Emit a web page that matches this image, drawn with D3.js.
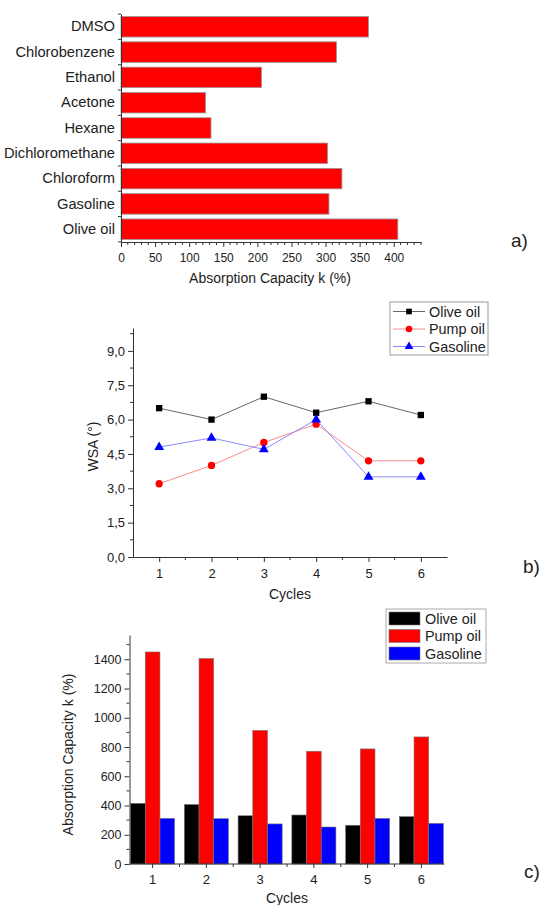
<!DOCTYPE html>
<html>
<head>
<meta charset="utf-8">
<script src="https://cdn.jsdelivr.net/npm/d3@7"></script>
<style>
  body { margin: 0; background: #fff; }
  svg { font-family: "Liberation Sans", Arial, sans-serif; }
  .axis path, .axis line { stroke: #333; }
  .axis text { fill: #222; }
</style>
</head>
<body>
<div id="chart"></div>
<script>
// panel a data
const solvents = ['DMSO', 'Chlorobenzene', 'Ethanol', 'Acetone', 'Hexane', 'Dichloromethane', 'Chloroform', 'Gasoline', 'Olive oil'];
const solventCapacity = [363, 316, 206, 124, 132, 303, 324, 305, 406];

// panel b / c data
const cycles = [1, 2, 3, 4, 5, 6];
const seriesNames = ['Olive oil', 'Pump oil', 'Gasoline'];
const wsaOlive = [6.5, 6.0, 7.0, 6.3, 6.8, 6.2];
const wsaPump = [3.2, 4.0, 5.0, 5.8, 4.2, 4.2];
const wsaGasoline = [4.8, 5.2, 4.7, 6.0, 3.5, 3.5];
const capOlive = [415, 407, 330, 335, 265, 324];
const capPump = [1450, 1405, 914, 771, 787, 869];
const capGasoline = [312, 310, 274, 253, 312, 278];

const svg = d3.select('#chart').append('svg')
    .attr('width', 545)
    .attr('height', 905);

function minorTicks(g, scale, values, len, orient) {
    values.forEach(v => {
        const p = scale(v);
        if (orient === 'bottom') {
            g.append('line').attr('x1', p).attr('x2', p).attr('y1', 0).attr('y2', len).attr('stroke', '#333');
        } else {
            g.append('line').attr('y1', p).attr('y2', p).attr('x1', 0).attr('x2', -len).attr('stroke', '#333');
        }
    });
}

function panelLabel(txt, x, y) {
    svg.append('text').attr('x', x).attr('y', y)
        .attr('font-size', 19).attr('fill', '#222')
        .text(txt);
}

function axisTitle(txt, x, y, rotate) {
    svg.append('text')
        .attr('transform', `translate(${x},${y})` + (rotate ? ' rotate(-90)' : ''))
        .attr('text-anchor', 'middle').attr('font-size', 14).attr('fill', '#222')
        .text(txt);
}

// ---------- panel a ----------
(function () {
    const left = 121, right = 421, top = 14, bottom = 242;
    const x = d3.scaleLinear().domain([0, 440]).range([left, right]);
    const y = d3.scaleBand().domain(solvents).range([top, bottom]).paddingInner(0.19).paddingOuter(0.1);

    svg.append('g').selectAll('rect')
        .data(solvents)
        .enter().append('rect')
        .attr('x', x(0))
        .attr('y', d => y(d))
        .attr('width', (d, i) => x(solventCapacity[i]) - x(0))
        .attr('height', y.bandwidth())
        .attr('fill', '#ff0000')
        .attr('stroke', '#999')
        .attr('stroke-width', 0.8);

    const xAxis = svg.append('g').attr('class', 'axis')
        .attr('transform', `translate(0,${bottom})`)
        .call(d3.axisBottom(x).tickValues(d3.range(0, 401, 50)).tickSize(5).tickSizeOuter(0));
    xAxis.selectAll('text').attr('dy', '1em').style('font-size', '12px');
    minorTicks(xAxis, x, d3.range(10, 441, 10).filter(v => v % 50 !== 0), 3, 'bottom');

    const yAxis = svg.append('g').attr('class', 'axis')
        .attr('transform', `translate(${left},0)`)
        .call(d3.axisLeft(y).tickSize(0).tickPadding(6).tickSizeOuter(0));
    yAxis.selectAll('text').style('font-size', '14.7px');
    // ticks on category boundaries
    const step = y.step();
    d3.range(0, solvents.length + 1).forEach(i => {
        const p = top + y.paddingOuter() * step - y.paddingInner() * step / 2 + i * step;
        yAxis.append('line').attr('x1', 0).attr('x2', -3).attr('y1', p).attr('y2', p).attr('stroke', '#333');
    });

    axisTitle('Absorption Capacity k (%)', 270, 283, false);
    panelLabel('a)', 511, 247);
})();

// ---------- panel b ----------
(function () {
    const left = 133, right = 447, top = 328, bottom = 557;
    const x = d3.scaleLinear().domain([0.5, 6.5]).range([left, right]);
    const y = d3.scaleLinear().domain([0, 10]).range([bottom, top]);
    const fmt = v => d3.format('.1f')(v).replace('.', ',');

    const xAxis = svg.append('g').attr('class', 'axis')
        .attr('transform', `translate(0,${bottom})`)
        .call(d3.axisBottom(x).tickValues(cycles).tickFormat(d3.format('d')).tickSize(5).tickSizeOuter(0));
    xAxis.selectAll('text').attr('dy', '1em').style('font-size', '13px');
    minorTicks(xAxis, x, [1.5, 2.5, 3.5, 4.5, 5.5], 3, 'bottom');

    const yAxis = svg.append('g').attr('class', 'axis')
        .attr('transform', `translate(${left},0)`)
        .call(d3.axisLeft(y).tickValues(d3.range(0, 9.01, 1.5)).tickFormat(fmt).tickSize(5).tickSizeOuter(0));
    yAxis.selectAll('text').style('font-size', '13px');
    minorTicks(yAxis, y, d3.range(0.75, 10, 1.5), 3, 'left');

    const series = [
        { name: seriesNames[0], values: wsaOlive, line: '#666', color: '#000', shape: d3.symbolSquare, size: 40 },
        { name: seriesNames[1], values: wsaPump, line: '#ff8a8a', color: '#ff0000', shape: d3.symbolCircle, size: 42 },
        { name: seriesNames[2], values: wsaGasoline, line: '#8a8aff', color: '#0000ff', shape: d3.symbolTriangle, size: 42 }
    ];

    const line = d3.line().x((d, i) => x(cycles[i])).y(d => y(d));

    series.forEach(s => {
        svg.append('path')
            .attr('d', line(s.values))
            .attr('fill', 'none')
            .attr('stroke', s.line)
            .attr('stroke-width', 1);
        svg.append('g').selectAll('path')
            .data(s.values)
            .enter().append('path')
            .attr('d', d3.symbol().type(s.shape).size(s.size))
            .attr('transform', (d, i) => `translate(${x(cycles[i])},${y(d)})`)
            .attr('fill', s.color);
    });

    // legend
    const lg = svg.append('g').attr('transform', 'translate(390,302)');
    lg.append('rect').attr('width', 98).attr('height', 53)
        .attr('fill', '#fff').attr('stroke', '#999');
    series.forEach((s, i) => {
        const cy = 9.5 + i * 17.5;
        lg.append('line').attr('x1', 3).attr('x2', 35).attr('y1', cy).attr('y2', cy)
            .attr('stroke', s.line);
        lg.append('path').attr('d', d3.symbol().type(s.shape).size(s.size * 0.8)())
            .attr('transform', `translate(19,${cy})`).attr('fill', s.color);
        lg.append('text').attr('x', 39).attr('y', cy).attr('dy', '0.36em')
            .attr('font-size', 14.4).attr('fill', '#222').text(s.name);
    });

    axisTitle('WSA (°)', 98, (top + bottom) / 2 + 4, true);
    axisTitle('Cycles', 290, 599, false);
    panelLabel('b)', 523, 573);
})();

// ---------- panel c ----------
(function () {
    const left = 129.5, right = 444.5, top = 635, bottom = 864;
    const x = d3.scaleBand().domain(cycles).range([left, right]).paddingInner(0.18).paddingOuter(0.02);
    const xSub = d3.scaleBand().domain(seriesNames).range([0, x.bandwidth()]);
    const y = d3.scaleLinear().domain([0, 1566]).range([bottom, top]);
    const colors = d3.scaleOrdinal().domain(seriesNames).range(['#000000', '#ff0000', '#0000ff']);
    const valuesBySeries = { 'Olive oil': capOlive, 'Pump oil': capPump, 'Gasoline': capGasoline };

    seriesNames.forEach(name => {
        svg.append('g').selectAll('rect')
            .data(valuesBySeries[name])
            .enter().append('rect')
            .attr('x', (d, i) => x(cycles[i]) + xSub(name))
            .attr('y', d => y(d))
            .attr('width', xSub.bandwidth())
            .attr('height', d => y(0) - y(d))
            .attr('fill', colors(name))
            .attr('stroke', '#777')
            .attr('stroke-width', 0.6);
    });

    const xAxis = svg.append('g').attr('class', 'axis')
        .attr('transform', `translate(0,${bottom})`)
        .call(d3.axisBottom(x).tickSize(4).tickSizeOuter(0));
    xAxis.select('.domain').attr('d', `M${left},0H${right}`);
    xAxis.selectAll('text').attr('dy', '1em').style('font-size', '13px');
    const xLin = d3.scaleLinear().domain([1, 6]).range([x(1) + x.bandwidth() / 2, x(6) + x.bandwidth() / 2]);
    minorTicks(xAxis, xLin, [1.5, 2.5, 3.5, 4.5, 5.5], 3, 'bottom');

    const yAxis = svg.append('g').attr('class', 'axis')
        .attr('transform', `translate(${left},0)`)
        .call(d3.axisLeft(y).tickValues(d3.range(0, 1401, 200)).tickFormat(d3.format('d')).tickSize(5).tickSizeOuter(0));
    yAxis.selectAll('text').style('font-size', '12.5px');
    minorTicks(yAxis, y, d3.range(100, 1560, 200), 3, 'left');

    const lg = svg.append('g').attr('transform', 'translate(386,609)');
    lg.append('rect').attr('width', 100).attr('height', 54)
        .attr('fill', '#fff').attr('stroke', '#aaa');
    seriesNames.forEach((name, i) => {
        const cy = 9.5 + i * 17.5;
        lg.append('rect').attr('x', 3).attr('y', cy - 6.5).attr('width', 31).attr('height', 13)
            .attr('fill', colors(name)).attr('stroke', '#777').attr('stroke-width', 0.6);
        lg.append('text').attr('x', 39).attr('y', cy).attr('dy', '0.36em')
            .attr('font-size', 14.4).attr('fill', '#222').text(name);
    });

    axisTitle('Absorption Capacity k (%)', 73, (top + bottom) / 2 + 5, true);
    axisTitle('Cycles', 287, 903, false);
    panelLabel('c)', 524, 878);
})();
</script>
</body>
</html>
